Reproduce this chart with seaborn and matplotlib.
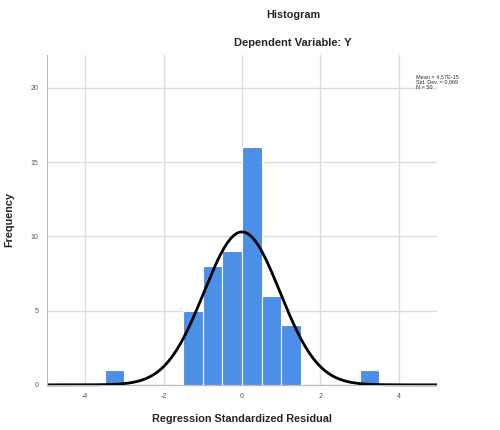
import matplotlib
matplotlib.use('Agg')
import matplotlib.pyplot as plt
import numpy as np
import pandas as pd
import seaborn as sns

# histogram bins (bin width 0.5)
bin_edges = [-3.5, -3.0, -2.5, -2.0, -1.5, -1.0, -0.5, 0.0, 0.5, 1.0, 1.5, 2.0, 2.5, 3.0, 3.5]
counts = [1, 0, 0, 0, 5, 8, 9, 16, 6, 4, 0, 0, 0, 1]

# summary stats shown in the legend box
mean_val = 4.57e-15
std_dev = 0.969
n_obs = 50

x_ticks = [-4, -2, 0, 2, 4]
y_ticks = [0, 5, 10, 15, 20]

sns.set_style("white")
plt.rcParams['font.family'] = ['Liberation Sans', 'DejaVu Sans']
plt.rcParams['axes.unicode_minus'] = False

centers = [(a + b) / 2 for a, b in zip(bin_edges[:-1], bin_edges[1:])]
df = pd.DataFrame({'resid': centers, 'count': counts})

fig = plt.figure(figsize=(5, 4.3), dpi=100)
ax = fig.add_axes([0.094, 0.105, 0.78, 0.767])

ax.set_axisbelow(True)
ax.grid(True, color='#dcdcdc', linewidth=1.0)

sns.histplot(data=df, x='resid', weights='count', bins=bin_edges,
             color='#4b8fe6', alpha=1.0, edgecolor='white', linewidth=0.8, ax=ax)

# fitted normal curve scaled to counts
bw = bin_edges[1] - bin_edges[0]
xs = np.linspace(-4.97, 4.97, 400)
ys = n_obs * bw / (std_dev * np.sqrt(2 * np.pi)) * np.exp(-0.5 * ((xs - mean_val) / std_dev) ** 2)
ax.plot(xs, ys, color='black', linewidth=2.0, clip_on=False, solid_capstyle='butt')

ax.set_xlim(-4.97, 4.97)
ax.set_ylim(0, 22.2)
ax.set_xticks(x_ticks)
ax.set_yticks(y_ticks)
ax.tick_params(axis='both', labelsize=5, colors='#555555', length=0, pad=6)
for s in ['top', 'right']:
    ax.spines[s].set_visible(False)
ax.spines['left'].set_color('#bbbbbb')
ax.spines['bottom'].set_color('#bbbbbb')

ax.set_xlabel('Regression Standardized Residual', fontsize=7.8, fontweight='bold', labelpad=10)
ax.set_ylabel('Frequency', fontsize=7.8, fontweight='bold', labelpad=12)

fig.text(0.586, 0.965, 'Histogram', ha='center', va='center', fontsize=7.8, fontweight='bold')
fig.text(0.586, 0.9, 'Dependent Variable: Y', ha='center', va='center', fontsize=8, fontweight='bold')

legend_txt = f'Mean = 4,57E-15\nStd. Dev. = {std_dev:.3f}'.replace('.969', ',969') + f'\nN = {n_obs}'
fig.text(0.832, 0.81, legend_txt, ha='left', va='center', fontsize=4, color='#333333', linespacing=1.1)

fig.savefig('out.png', dpi=100)
